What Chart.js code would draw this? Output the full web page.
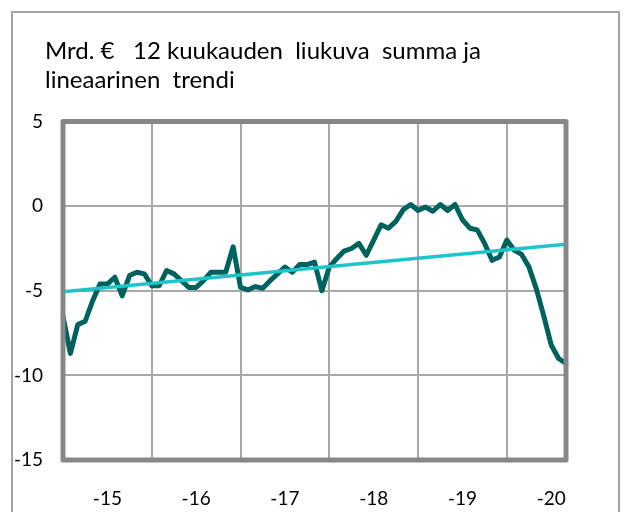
<!DOCTYPE html>
<html>
<head>
<meta charset="utf-8">
<script src="https://cdn.jsdelivr.net/npm/chart.js@4.4.0/dist/chart.umd.min.js"></script>
<style>
  html, body { margin: 0; padding: 0; background: #fff; }
  #frame { position: absolute; left: 11px; top: 11px; width: 605px; height: 540px; border: 2px solid #a3a3a3; }
  #wrap { position: absolute; left: 0; top: 0; width: 624px; height: 512px; }
</style>
</head>
<body>
<div id="frame"></div>
<div id="wrap"><canvas id="chart" width="624" height="512"></canvas></div>
<script>
// monthly points, Jan 2015 .. Sep 2020
var years = [2015, 2016, 2017, 2018, 2019, 2020];
var lastYearMonths = 9;
var yearLabels = ['-15', '-16', '-17', '-18', '-19', '-20'];

// 12 kk liukuva summa, mrd. €
var movingSum = [
  -6.5, -8.7, -7.0, -6.8, -5.6, -4.6, -4.6, -4.2, -5.3, -4.1, -3.9, -4.0,
  -4.7, -4.7, -3.8, -4.0, -4.4, -4.8, -4.8, -4.4, -3.9, -3.9, -3.9, -2.4,
  -4.8, -4.95, -4.75, -4.85, -4.4, -4.0, -3.6, -3.9, -3.45, -3.45, -3.3, -5.0,
  -3.6, -3.1, -2.65, -2.5, -2.2, -2.9, -2.0, -1.1, -1.3, -0.9, -0.2, 0.1,
  -0.25, -0.05, -0.3, 0.1, -0.25, 0.1, -0.8, -1.3, -1.4, -2.2, -3.2, -3.0,
  -2.0, -2.6, -2.85, -3.6, -4.9, -6.5, -8.2, -9.0, -9.3
];
// lineaarinen trendi, alku- ja loppupiste
var trendEnds = [-5.05, -2.25];

var months = [];
years.forEach(function(y, k) {
  var n = (k === years.length - 1) ? lastYearMonths : 12;
  for (var m = 1; m <= n; m++) {
    months.push(y + '-' + (m < 10 ? '0' : '') + m);
  }
});

var fontFamily = 'Lato';
var gridColor = '#a8a8a8';

// thick grey box round the plot
var plotFrame = {
  id: 'plotFrame',
  afterLayout: function(chart) {
    // title starts further right than the y labels
    if (chart.titleBlock) chart.titleBlock.left = 45;
  },
  afterDatasetsDraw: function(chart) {
    var ctx = chart.ctx;
    var a = chart.chartArea;
    ctx.save();
    ctx.strokeStyle = '#878787';
    ctx.lineWidth = 5;
    ctx.lineJoin = 'round';
    ctx.strokeRect(a.left, a.top, a.right - a.left, a.bottom - a.top);
    ctx.restore();
  }
};

new Chart(document.getElementById('chart'), {
  type: 'line',
  data: {
    labels: months,
    datasets: [
      {
        label: 'Lineaarinen trendi',
        data: [
          { x: months[0], y: trendEnds[0] },
          { x: months[months.length - 1], y: trendEnds[1] }
        ],
        borderColor: '#1dc5ca',
        borderWidth: 3.5,
        pointRadius: 0,
        fill: false
      },
      {
        label: '12 kuukauden liukuva summa',
        data: movingSum,
        borderColor: '#00625f',
        borderWidth: 5,
        borderJoinStyle: 'round',
        borderCapStyle: 'round',
        pointRadius: 0,
        fill: false,
        lineTension: 0
      }
    ]
  },
  options: {
    responsive: false,
    animation: false,
    layout: { padding: { left: 14, right: 58, top: 0, bottom: 0 } },
    plugins: {
      legend: { display: false },
      tooltip: { enabled: false },
      title: {
        display: true,
        align: 'start',
        text: ['Mrd. €   12 kuukauden  liukuva  summa ja', 'lineaarinen  trendi'],
        color: '#000',
        font: { family: fontFamily, size: 24, weight: 'normal', lineHeight: 1.2 },
        padding: { top: 37, bottom: 27 }
      }
    },
    scales: {
      x: {
        type: 'category',
        border: { display: false },
        afterFit: function(s) { s.height = 52; },
        grid: {
          drawTicks: false,
          lineWidth: 2,
          color: function(c) { return (c.index % 12 === 0 && c.index > 0) ? gridColor : 'rgba(0,0,0,0)'; }
        },
        ticks: {
          autoSkip: false,
          maxRotation: 0,
          padding: 27,
          color: '#000',
          font: { family: fontFamily, size: 19 },
          callback: function(v, i) { return i % 12 === 6 ? yearLabels[(i - 6) / 12] : ''; }
        }
      },
      y: {
        min: -15,
        max: 5,
        border: { display: false },
        afterFit: function(s) { s.width = 49; },
        grid: { drawTicks: false, lineWidth: 2, color: gridColor },
        ticks: {
          stepSize: 5,
          padding: 20,
          color: '#000',
          font: { family: fontFamily, size: 19 }
        }
      }
    }
  },
  plugins: [plotFrame]
});
</script>
</body>
</html>
